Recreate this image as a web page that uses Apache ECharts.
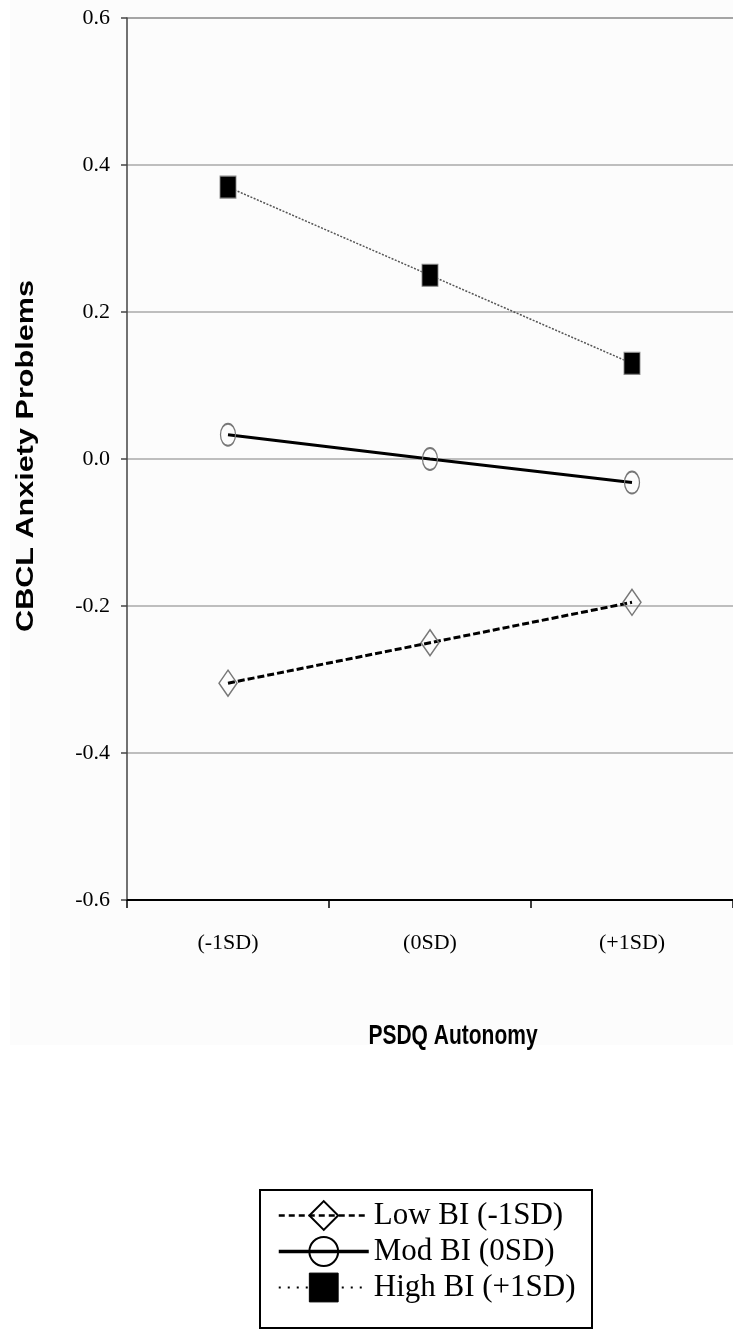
<!DOCTYPE html>
<html>
<head>
<meta charset="utf-8">
<script src="https://cdn.jsdelivr.net/npm/echarts@6/dist/echarts.min.js"></script>
<style>
  html, body { margin: 0; padding: 0; background: #ffffff; }
  #chart { width: 733px; height: 1336px; }
</style>
</head>
<body>
<div id="chart"></div>
<script>
// Categories on the x axis (PSDQ Autonomy level)
const categories = ['(-1SD)', '(0SD)', '(+1SD)'];

// Predicted CBCL anxiety problems for each behavioural-inhibition level
const lowBI  = [-0.305, -0.25, -0.195];
const modBI  = [0.033, 0.0, -0.032];
const highBI = [0.37, 0.25, 0.13];

const seriesNames = ['Low BI (-1SD)', 'Mod BI (0SD)', 'High BI (+1SD)'];

// Y axis range and step
const yMin = -0.6;
const yMax = 0.6;
const yStep = 0.2;

const chart = echarts.init(document.getElementById('chart'), null, { renderer: 'canvas' });

const serifFont = '"Liberation Serif", "Times New Roman", serif';
const sansFont = '"Liberation Sans", Arial, sans-serif';

const option = {
  backgroundColor: '#ffffff',
  animation: false,
  grid: { left: 127, top: 18, width: 614, height: 882, containLabel: false },
  xAxis: {
    type: 'category',
    data: categories,
    boundaryGap: true,
    axisLine: { onZero: false, lineStyle: { color: '#000', width: 2 } },
    axisTick: { show: true, length: 8, lineStyle: { color: '#000', width: 1.5 } },
    axisLabel: { color: '#000', fontFamily: serifFont, fontSize: 22, margin: 32 },
    splitLine: { show: false }
  },
  yAxis: {
    type: 'value',
    min: yMin,
    max: yMax,
    interval: yStep,
    axisLine: { show: true, lineStyle: { color: '#444', width: 1.5 } },
    axisTick: { show: true, length: 6, lineStyle: { color: '#444', width: 1.5 } },
    axisLabel: {
      color: '#000', fontFamily: serifFont, fontSize: 22, margin: 17,
      formatter: v => v.toFixed(1)
    },
    splitLine: {
      show: true,
      lineStyle: { color: ['#000', '#aaa', '#aaa', '#aaa', '#aaa', '#aaa', '#888'], width: 1.5 }
    }
  },
  legend: {
    orient: 'vertical',
    left: 272,
    top: 1195,
    itemWidth: 90,
    itemHeight: 36,
    itemGap: 5,
    selectedMode: false,
    textStyle: { color: '#000', fontFamily: serifFont, fontSize: 31 },
    data: [
      {
        name: seriesNames[0],
        itemStyle: { color: 'rgba(0,0,0,0)', borderColor: '#000', borderWidth: 2 },
        lineStyle: { color: '#000', width: 2.5, type: [6, 4] }
      },
      {
        name: seriesNames[1],
        itemStyle: { color: 'rgba(0,0,0,0)', borderColor: '#000', borderWidth: 2 },
        lineStyle: { color: '#000', width: 3.5, type: 'solid' }
      },
      {
        name: seriesNames[2],
        itemStyle: { color: '#000', borderColor: '#000', borderWidth: 1 },
        lineStyle: { color: '#000', width: 2, type: [2, 7] }
      }
    ]
  },
  series: [
    {
      name: seriesNames[0],
      type: 'line',
      data: lowBI,
      symbol: 'diamond',
      symbolSize: [18, 26],
      showAllSymbol: true,
      lineStyle: { color: '#000', width: 3, type: [7, 3] },
      itemStyle: { color: 'rgba(0,0,0,0)', borderColor: '#777', borderWidth: 1.5 },
      z: 3
    },
    {
      name: seriesNames[1],
      type: 'line',
      data: modBI,
      symbol: 'circle',
      symbolSize: [15, 22],
      lineStyle: { color: '#000', width: 3, type: 'solid' },
      itemStyle: { color: 'rgba(0,0,0,0)', borderColor: '#777', borderWidth: 1.5 },
      z: 3
    },
    {
      name: seriesNames[2],
      type: 'line',
      data: highBI,
      symbol: 'rect',
      symbolSize: [16, 22],
      lineStyle: { color: '#555', width: 1.5, type: [2, 1.5] },
      itemStyle: { color: '#000', borderColor: '#888', borderWidth: 1 },
      z: 3
    }
  ],
  graphic: [
    {
      // faint backdrop behind the plotting region
      type: 'rect',
      z: -10,
      silent: true,
      shape: { x: 10, y: 0, width: 723, height: 1045 },
      style: { fill: '#fcfcfc' }
    },
    {
      type: 'text',
      x: 27,
      y: 456,
      rotation: Math.PI / 2,
      scaleX: 1.33,
      silent: true,
      style: {
        text: 'CBCL Anxiety Problems',
        fontFamily: sansFont,
        fontWeight: 'bold',
        fontSize: 23,
        fill: '#000',
        textAlign: 'center',
        textVerticalAlign: 'middle',
        align: 'center',
        verticalAlign: 'middle'
      }
    },
    {
      type: 'text',
      x: 453,
      y: 1036,
      scaleY: 1.33,
      silent: true,
      style: {
        text: 'PSDQ Autonomy',
        fontFamily: sansFont,
        fontWeight: 'bold',
        fontSize: 21,
        fill: '#000',
        textAlign: 'center',
        textVerticalAlign: 'middle',
        align: 'center',
        verticalAlign: 'middle'
      }
    },
    {
      // legend frame
      type: 'rect',
      silent: true,
      shape: { x: 260, y: 1190, width: 332, height: 138 },
      style: { fill: 'rgba(0,0,0,0)', stroke: '#000', lineWidth: 2 }
    }
  ]
};

chart.setOption(option);
</script>
</body>
</html>
